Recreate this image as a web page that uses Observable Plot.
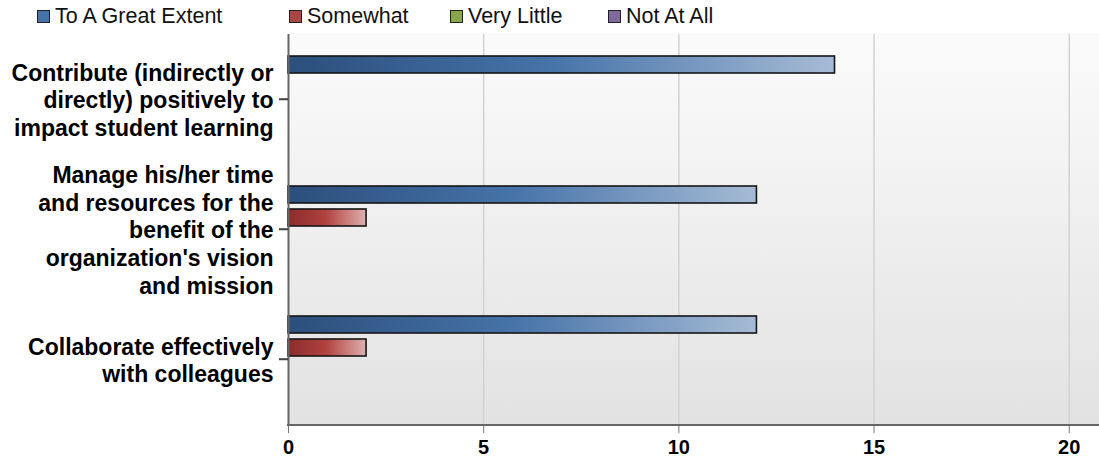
<!DOCTYPE html>
<html>
<head>
<meta charset="utf-8">
<script src="https://cdn.jsdelivr.net/npm/d3@7"></script>
<script src="https://cdn.jsdelivr.net/npm/@observablehq/plot@0.6"></script>
<style>
  body { margin: 0; background: #fff; font-family: "Liberation Sans", Arial, sans-serif; }
  #legend { position: relative; height: 30px; width: 1099px; font-size: 21.5px; color: #111; }
  .item { position: absolute; top: 4px; display: flex; align-items: center; white-space: nowrap; line-height: 24px; }
  .sw { width: 11px; height: 11px; border: 1.5px solid #222; margin-right: 5px; }
  #chart svg { display: block; }
</style>
</head>
<body>
<div id="legend"></div>
<div id="chart"></div>
<script>
const categories = [
  "Contribute (indirectly or\ndirectly) positively to\nimpact student learning",
  "Manage his/her time\nand resources for the\nbenefit of the\norganization's vision\nand mission",
  "Collaborate effectively\nwith colleagues"
];
const series = ["To A Great Extent", "Somewhat", "Very Little", "Not At All"];
const greatExtent = [14, 12, 12];
const somewhat = [0, 2, 2];
const veryLittle = [0, 0, 0];
const notAtAll = [0, 0, 0];
const xTicks = [0, 5, 10, 15, 20];

const seriesColors = ["#4572a7", "#aa4643", "#89a54e", "#80699b"];
const gradStops = [
  ["#2c4f7c", "#4673a8", "#a6bbd6"],
  ["#8a2d2b", "#b0413e", "#dfb0ae"],
  ["#5e7a30", "#89a54e", "#cbdab0"],
  ["#58466e", "#80699b", "#c6bad4"]
];
const legendLeft = [37, 289, 450, 608];

// legend
const legend = document.getElementById("legend");
series.forEach((s, i) => {
  const it = document.createElement("div");
  it.className = "item";
  it.style.left = legendLeft[i] + "px";
  it.innerHTML = `<span class="sw" style="background:${seriesColors[i]}"></span><span>${s}</span>`;
  legend.appendChild(it);
});

const valuesBySeries = [greatExtent, somewhat, veryLittle, notAtAll];
const rows = [];
categories.forEach((c, ci) => {
  series.forEach((s, si) => {
    const v = valuesBySeries[si][ci];
    if (v > 0) rows.push({cat: c, series: s, value: v});
  });
});

const W = 1099, H = 431, mL = 288, mR = 1, mT = 3, mB = 36;

const plot = Plot.plot({
  width: W,
  height: H,
  marginLeft: mL,
  marginRight: mR,
  marginTop: mT,
  marginBottom: mB,
  style: {fontFamily: "'Liberation Sans', Arial, sans-serif", background: "transparent", color: "#000"},
  x: {domain: [0, 20.75], ticks: xTicks},
  y: {domain: series, paddingInner: 0.25, paddingOuter: 0.875, axis: null},
  fy: {domain: categories, padding: 0},
  color: {domain: series, range: series.map((d, i) => `url(#grad${i})`)},
  marks: [
    Plot.gridX(xTicks.filter(d => d > 0), {stroke: "#d2d2d2", strokeOpacity: 1, strokeWidth: 1.5}),
    Plot.barX(rows, {fy: "cat", y: "series", x: "value", fill: "series", stroke: "#161616", strokeWidth: 1.6}),
    Plot.ruleX([0], {stroke: "#666", strokeWidth: 2}),
    Plot.axisX({ticks: xTicks, tickSize: 9, tickPadding: 6, fontSize: 20, fontWeight: "bold", stroke: "#777", fill: "#000", label: null}),
    Plot.axisFy({anchor: "left", tickSize: 9, tickPadding: 6, fontSize: 23, fontWeight: "bold", lineHeight: 1.2, stroke: "#444", strokeWidth: 1.5, strokeOpacity: 1, fill: "#000", label: null})
  ]
});

const svg = d3.select(plot);
const defs = svg.insert("defs", ":first-child");
gradStops.forEach((st, i) => {
  const g = defs.append("linearGradient").attr("id", `grad${i}`).attr("x1", 0).attr("x2", 1).attr("y1", 0).attr("y2", 0);
  g.append("stop").attr("offset", "0%").attr("stop-color", st[0]);
  g.append("stop").attr("offset", "48%").attr("stop-color", st[1]);
  g.append("stop").attr("offset", "100%").attr("stop-color", st[2]);
});
const bg = defs.append("linearGradient").attr("id", "bgGrad").attr("x1", 0).attr("x2", 0).attr("y1", 0).attr("y2", 1);
bg.append("stop").attr("offset", "0%").attr("stop-color", "#fbfbfb");
bg.append("stop").attr("offset", "100%").attr("stop-color", "#e2e2e2");

svg.insert("rect", "g")
  .attr("x", mL).attr("y", mT)
  .attr("width", W - mL).attr("height", H - mT - mB)
  .attr("fill", "url(#bgGrad)");
svg.append("line")
  .attr("x1", mL - 1).attr("x2", W)
  .attr("y1", H - mB).attr("y2", H - mB)
  .attr("stroke", "#666").attr("stroke-width", 2);

// category ticks on the left axis, positioned by the fy scale
const fy = plot.scale("fy");
categories.forEach(c => {
  const yy = fy.apply(c) + fy.bandwidth / 2;
  svg.append("line")
    .attr("x1", mL - 9).attr("x2", mL)
    .attr("y1", yy).attr("y2", yy)
    .attr("stroke", "#444").attr("stroke-width", 1.5);
});

document.getElementById("chart").appendChild(plot);
</script>
</body>
</html>
